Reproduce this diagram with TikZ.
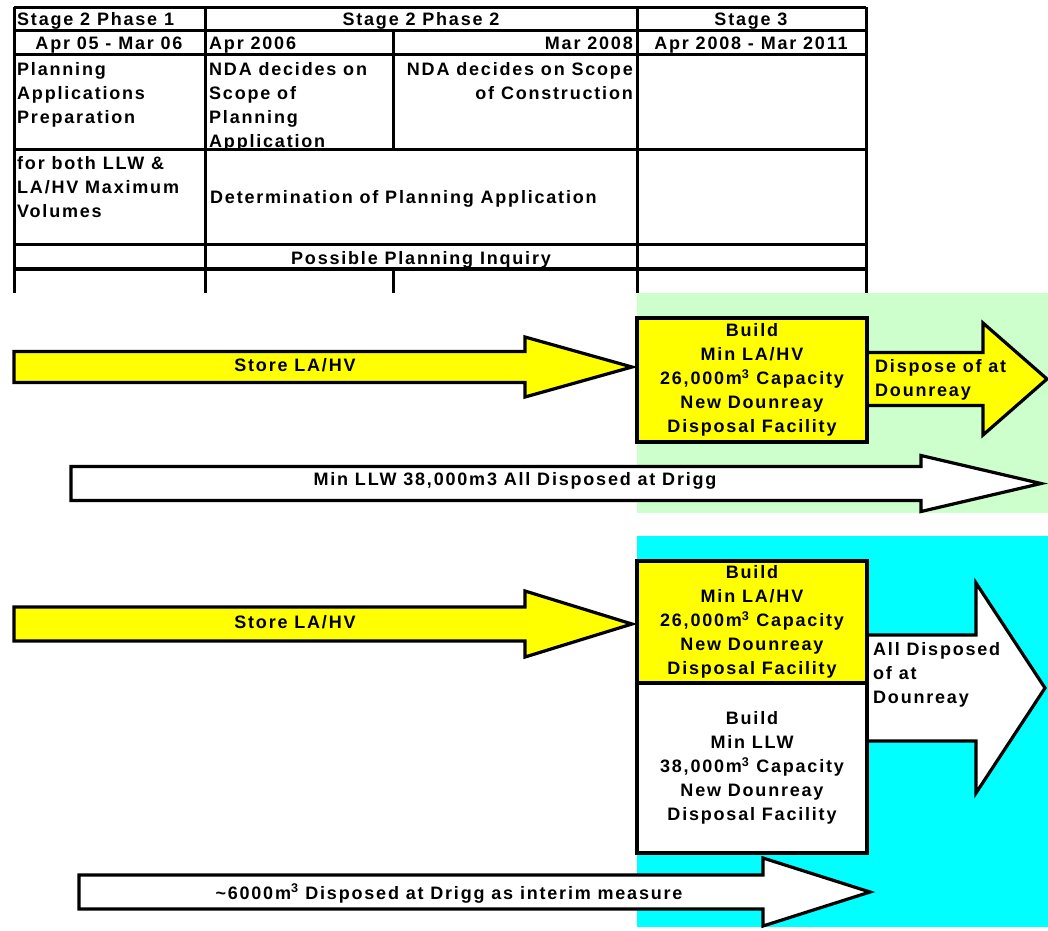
\documentclass[tikz,border=0pt]{standalone}
\usepackage{fontspec}
\newfontfamily\planfont{Liberation Sans}[LetterSpace=10]
\usetikzlibrary{positioning}
\definecolor{boxyellow}{RGB}{255,255,0}
\definecolor{stagegreen}{RGB}{204,255,204}
\definecolor{stagecyan}{RGB}{0,255,255}

% style, tail x, head base x, tip x, mid y, half shaft, half head
\newcommand{\blockarrow}[7]{%
  \draw[#1] (#2,#5-#6) -- (#3,#5-#6) -- (#3,#5-#7) -- (#4,#5) -- (#3,#5+#7) -- (#3,#5+#6) -- (#2,#5+#6) -- cycle;}

\begin{document}
\begin{tikzpicture}[x=1pt, y=-1pt,
    txt/.style={font=\planfont\bfseries\fontsize{18}{24}\selectfont, inner sep=0pt},
    cell/.style={txt, anchor=north west, align=left},
    cellr/.style={txt, anchor=north east, align=right},
    grid/.style={line width=3pt},
    facility/.style={txt, draw, line width=4.5pt, minimum width=230pt, align=center},
    yarrow/.style={draw, line width=3.2pt, fill=boxyellow},
    warrow/.style={draw, line width=3.2pt, fill=white}
]
    \useasboundingbox (0,0) rectangle (1048,930);
    \fill[stagegreen] (637,293) rectangle (1048,513);
    \fill[stagecyan] (637,536) rectangle (1048,927);

    % table
    \foreach \y in {7,30.5,54,149,244} \draw[grid] (14,\y) -- (866,\y);
    \draw[line width=4pt] (14,269) -- (866,269);
    \foreach \x in {14,205,637,866} \draw[grid] (\x,7) -- (\x,293);
    \draw[grid] (393,30.5) -- (393,149);
    \draw[grid] (393,269) -- (393,293);

    \node[txt, anchor=base west] (phase1) at (17,25.5) {Stage 2 Phase 1};
    \node[txt, anchor=base] (phase2) at (421,25.5) {Stage 2 Phase 2};
    \node[txt, anchor=base] (stage3) at (751,25.5) {Stage 3};
    \node[txt, anchor=base] (date1) at (109,49.5) {Apr 05 - Mar 06};
    \node[txt, anchor=base west] (date2) at (209,49.5) {Apr 2006};
    \node[txt, anchor=base east] (date3) at (633,49.5) {Mar 2008};
    \node[txt, anchor=base] (date4) at (751,49.5) {Apr 2008 - Mar 2011};
    \node[cell] (prep) at (17,58.7) {\strut Planning\\Applications\\Preparation};
    \begin{scope}
        \clip (205,54) rectangle (393,148);
        \node[cell] (scope) at (209,58.7) {\strut NDA decides on\\Scope of\\Planning\\Application};
    \end{scope}
    \node[cellr] (constr) at (633,58.7) {\strut NDA decides on Scope\\of Construction};
    \node[cell] (volumes) at (17,152.5) {\strut for both LLW \&\\LA/HV Maximum\\Volumes};
    \node[txt, anchor=base west] (determ) at (210,203) {Determination of Planning Application};
    \begin{scope}
        \clip (205,244) rectangle (637,267.5);
        \node[txt, anchor=base] (inquiry) at (421,264) {Possible Planning Inquiry};
    \end{scope}

    % option with LLW to Drigg
    \blockarrow{yarrow}{14}{525}{632}{367}{15.5}{30}
    \blockarrow{yarrow}{860}{983}{1047}{379}{26.5}{56}
    \blockarrow{warrow}{71}{921}{1041}{483.5}{17}{28}
    \node[facility, fill=boxyellow, minimum height=124pt] (laA) at (752,380)
        {Build\\Min LA/HV\\26,000m\textsuperscript{3} Capacity\\New Dounreay\\Disposal Facility};
    \node[txt, anchor=base] (storeA) at (295,371.5) {Store LA/HV};
    \node[cell] (dispA) at (875,355.2) {\strut Dispose of at\\Dounreay};
    \node[txt, anchor=base] (drigg) at (515,485.5) {Min LLW 38,000m3 All Disposed at Drigg};

    % option with both at Dounreay
    \blockarrow{yarrow}{14}{525}{632}{624}{17}{33}
    \blockarrow{warrow}{860}{976}{1045}{688}{53}{105}
    \blockarrow{warrow}{79}{763}{870}{892}{17}{34}
    \node[facility, fill=boxyellow, minimum height=122pt] (laB) at (752,622)
        {Build\\Min LA/HV\\26,000m\textsuperscript{3} Capacity\\New Dounreay\\Disposal Facility};
    \node[facility, fill=white, minimum height=170pt] (llwB) at (752,768)
        {Build\\Min LLW\\38,000m\textsuperscript{3} Capacity\\New Dounreay\\Disposal Facility};
    \node[txt, anchor=base] (storeB) at (295,628.5) {Store LA/HV};
    \node[cell] (dispB) at (873,638.2) {\strut All Disposed\\of at\\Dounreay};
    \node[txt, anchor=base] (interim) at (449,899) {\textasciitilde 6000m\textsuperscript{3} Disposed at Drigg as interim measure};
\end{tikzpicture}
\end{document}
